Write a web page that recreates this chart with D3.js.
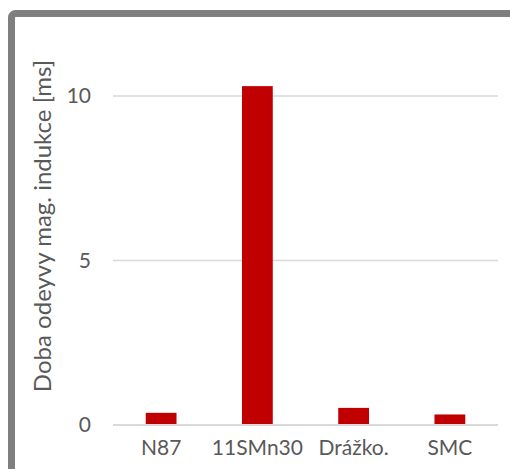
<!DOCTYPE html>
<html><head><meta charset="utf-8">
<script src="https://cdn.jsdelivr.net/npm/d3@7"></script>
<style>html,body{margin:0;padding:0;background:#fff;overflow:hidden}</style>
</head><body>
<svg id="c" width="510" height="469"></svg>
<script>
const categories = ["N87", "11SMn30", "Drážko.", "SMC"];
const values = [0.37, 10.3, 0.52, 0.32];
const yTicks = [0, 5, 10];
const yTitle = "Doba odeyvy mag. indukce [ms]";

const svg = d3.select("#c");
const font = "Lato, 'Open Sans', sans-serif";
const textColor = "#595959";

// frame
svg.append("rect").attr("x", 11.5).attr("y", 13.5).attr("width", 540).attr("height", 520)
  .attr("rx", 4).attr("fill", "none").attr("stroke", "#7f7f7f").attr("stroke-width", 7);

const x = d3.scaleBand().domain(categories).range([113, 498]).paddingInner(0.68).paddingOuter(0.34);
const y = d3.scaleLinear().domain([0, 10]).range([425, 96]);

const grid = svg.append("g");
grid.selectAll("line").data(yTicks.filter(t => t !== 0)).join("line")
  .attr("x1", 113).attr("x2", 498).attr("y1", d => y(d)).attr("y2", d => y(d))
  .attr("stroke", "#d9d9d9").attr("stroke-width", 1.3);

svg.append("g").selectAll("rect").data(values).join("rect")
  .attr("x", (d, i) => x(categories[i])).attr("width", x.bandwidth())
  .attr("y", d => y(d)).attr("height", d => y(0) - y(d))
  .attr("fill", "#c00000");

svg.append("line").attr("x1", 113).attr("x2", 498).attr("y1", y(0)).attr("y2", y(0))
  .attr("stroke", "#d9d9d9").attr("stroke-width", 2);

const yAxis = d3.axisLeft(y).tickValues(yTicks).tickSize(0).tickPadding(0);
const ga = svg.append("g").attr("transform", "translate(91,0)").call(yAxis);
ga.select(".domain").remove();
ga.selectAll("text").attr("font-family", font).attr("font-size", 21).attr("fill", textColor);

const xAxis = d3.axisBottom(x).tickSize(0).tickPadding(0);
const gx = svg.append("g").attr("transform", "translate(0,439)").call(xAxis);
gx.select(".domain").remove();
gx.selectAll("text").attr("font-family", font).attr("font-size", 21).attr("fill", textColor).attr("dy", "0.75em");

svg.append("text").attr("transform", "translate(51,226) rotate(-90)")
  .attr("text-anchor", "middle").attr("font-family", font).attr("font-size", 24)
  .attr("fill", textColor).text(yTitle);
</script>
</body></html>
